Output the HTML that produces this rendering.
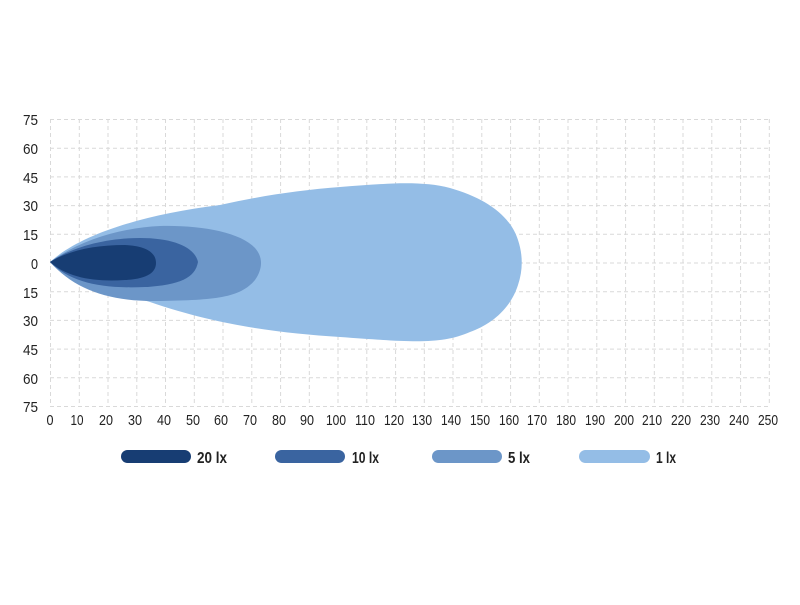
<!DOCTYPE html>
<html><head><style>body{margin:0;background:#fff}svg text{font-family:"Liberation Sans Narrow","Liberation Sans",sans-serif}</style></head><body>
<svg width="800" height="600" viewBox="0 0 800 600" xmlns="http://www.w3.org/2000/svg">
<g stroke="#d9d9d9" stroke-width="1" stroke-dasharray="4,3" fill="none">
<path d="M50.5 119V406M79.3 119V406M108 119V406M136.8 119V406M165.5 119V406M194.3 119V406M223 119V406M251.8 119V406M280.6 119V406M309.3 119V406M338 119V406M366.8 119V406M395.6 119V406M424.3 119V406M453 119V406M481.8 119V406M510.6 119V406M539.3 119V406M568 119V406M596.8 119V406M625.6 119V406M654.3 119V406M683 119V406M711.8 119V406M740.6 119V406M769.3 119V406"/>
<path d="M50 119.5H770M50 148.2H770M50 176.9H770M50 205.6H770M50 234.3H770M50 263H770M50 291.7H770M50 320.4H770M50 349.1H770M50 377.8H770M50 406.5H770"/>
</g>
<path fill="#94bde6" d="M50 262 C80 235 140 215 220 205 C260 196 300 190 340 187 C380 184 420 180 450 188 C485 198 510 215 518 240 C523 255 523 270 518 285 C510 310 490 325 470 332 C440 345 410 342 340 337 C280 333 220 326 150 302 C100 288 70 282 50 262Z"/>
<path fill="#6c96c8" d="M50 262 C80 240 120 228 160 226 C200 225 240 232 255 248 C264 258 262 270 255 280 C240 298 215 300 160 301 C110 302 75 290 50 262Z"/>
<path fill="#3a64a0" d="M50 262 C75 245 110 238 140 238 C175 238 195 248 198 262 C195 278 180 285 145 287 C100 289 70 282 50 262Z"/>
<path fill="#173d73" d="M50 262 C70 250 95 245 125 245 C150 246 156 255 156 263 C156 272 148 279 125 280 C95 282 68 278 50 262Z"/>
<g font-size="15" fill="#222" text-anchor="end" lengthAdjust="spacingAndGlyphs">
<text x="38" y="125" textLength="15" lengthAdjust="spacingAndGlyphs">75</text><text x="38" y="154" textLength="15" lengthAdjust="spacingAndGlyphs">60</text><text x="38" y="183" textLength="15" lengthAdjust="spacingAndGlyphs">45</text><text x="38" y="211" textLength="15" lengthAdjust="spacingAndGlyphs">30</text><text x="38" y="240" textLength="15" lengthAdjust="spacingAndGlyphs">15</text><text x="38" y="269" textLength="7" lengthAdjust="spacingAndGlyphs">0</text><text x="38" y="298" textLength="15" lengthAdjust="spacingAndGlyphs">15</text><text x="38" y="326" textLength="15" lengthAdjust="spacingAndGlyphs">30</text><text x="38" y="355" textLength="15" lengthAdjust="spacingAndGlyphs">45</text><text x="38" y="384" textLength="15" lengthAdjust="spacingAndGlyphs">60</text><text x="38" y="412" textLength="15" lengthAdjust="spacingAndGlyphs">75</text>
</g>
<g font-size="15" fill="#222" text-anchor="middle">
<text x="50" y="425" textLength="7" lengthAdjust="spacingAndGlyphs">0</text><text x="77" y="425" textLength="13" lengthAdjust="spacingAndGlyphs">10</text><text x="106" y="425" textLength="14" lengthAdjust="spacingAndGlyphs">20</text><text x="135" y="425" textLength="14" lengthAdjust="spacingAndGlyphs">30</text><text x="164" y="425" textLength="14" lengthAdjust="spacingAndGlyphs">40</text><text x="193" y="425" textLength="14" lengthAdjust="spacingAndGlyphs">50</text><text x="221" y="425" textLength="14" lengthAdjust="spacingAndGlyphs">60</text><text x="250" y="425" textLength="14" lengthAdjust="spacingAndGlyphs">70</text><text x="279" y="425" textLength="14" lengthAdjust="spacingAndGlyphs">80</text><text x="307" y="425" textLength="14" lengthAdjust="spacingAndGlyphs">90</text><text x="336" y="425" textLength="20" lengthAdjust="spacingAndGlyphs">100</text><text x="365" y="425" textLength="20" lengthAdjust="spacingAndGlyphs">110</text><text x="394" y="425" textLength="20" lengthAdjust="spacingAndGlyphs">120</text><text x="422" y="425" textLength="20" lengthAdjust="spacingAndGlyphs">130</text><text x="451" y="425" textLength="20" lengthAdjust="spacingAndGlyphs">140</text><text x="480" y="425" textLength="20" lengthAdjust="spacingAndGlyphs">150</text><text x="509" y="425" textLength="20" lengthAdjust="spacingAndGlyphs">160</text><text x="537" y="425" textLength="20" lengthAdjust="spacingAndGlyphs">170</text><text x="566" y="425" textLength="20" lengthAdjust="spacingAndGlyphs">180</text><text x="595" y="425" textLength="20" lengthAdjust="spacingAndGlyphs">190</text><text x="624" y="425" textLength="20" lengthAdjust="spacingAndGlyphs">200</text><text x="652" y="425" textLength="20" lengthAdjust="spacingAndGlyphs">210</text><text x="681" y="425" textLength="20" lengthAdjust="spacingAndGlyphs">220</text><text x="710" y="425" textLength="20" lengthAdjust="spacingAndGlyphs">230</text><text x="739" y="425" textLength="20" lengthAdjust="spacingAndGlyphs">240</text><text x="768" y="425" textLength="20" lengthAdjust="spacingAndGlyphs">250</text>
</g>
<rect x="121" y="450" width="70" height="13" rx="6.5" fill="#173d73"/>
<rect x="275" y="450" width="70" height="13" rx="6.5" fill="#3a64a0"/>
<rect x="432" y="450" width="70" height="13" rx="6.5" fill="#6c96c8"/>
<rect x="579" y="450" width="71" height="13" rx="6.5" fill="#94bde6"/>
<g font-size="16" font-weight="bold" fill="#222">
<text x="197" y="463" textLength="30" lengthAdjust="spacingAndGlyphs">20 lx</text><text x="352" y="463" textLength="27" lengthAdjust="spacingAndGlyphs">10 lx</text><text x="508" y="463" textLength="22" lengthAdjust="spacingAndGlyphs">5 lx</text><text x="656" y="463" textLength="20" lengthAdjust="spacingAndGlyphs">1 lx</text>
</g>
</svg>
</body></html>
